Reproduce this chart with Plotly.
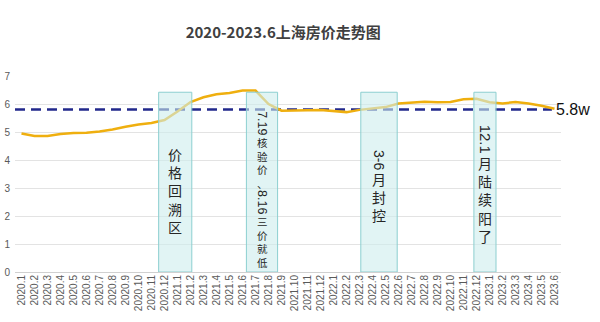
import plotly.graph_objects as go

months = ([f"2020.{m}" for m in range(1, 13)] + [f"2021.{m}" for m in range(1, 13)]
          + [f"2022.{m}" for m in range(1, 13)] + [f"2023.{m}" for m in range(1, 7)])
prices = [4.95, 4.86, 4.86, 4.93, 4.96, 4.97, 5.02, 5.09, 5.19, 5.27, 5.32, 5.43,
          5.73, 6.07, 6.24, 6.35, 6.39, 6.48, 6.48, 6.00, 5.76, 5.76, 5.78, 5.79,
          5.76, 5.71, 5.79, 5.83, 5.89, 6.02, 6.06, 6.08, 6.06, 6.07, 6.17, 6.19,
          6.06, 6.02, 6.07, 6.02, 5.94, 5.83]
benchmark = 5.8
benchmark_label = "5.8w"
notes = ["价格回溯区", "7.19核验价、8.16三价就低", "3-6月封控", "12.1月陆续阳了"]
title = "2020-2023.6上海房价走势图"

# layout for the highlight boxes (category index spans) and label placement
box_spans = [(10.55, 13.1), (17.3, 19.7), (26.1, 28.9), (34.8, 36.5)]
box_top = 6.42
note_top = [4.54, 5.75, 4.36, 5.25]
note_cjk_size = [14, 10.5, 14, 14]
note_latin_size = [14, 12.5, 14, 15]

fig = go.Figure()
fig.add_trace(go.Scatter(x=months, y=prices, mode="lines",
                         line=dict(color="#EFAF0F", width=2.5), hoverinfo="skip",
                         showlegend=False))

shapes = [dict(type="line", xref="x", yref="y", x0=-0.5, x1=40.8, y0=benchmark, y1=benchmark,
               line=dict(color="#22288C", width=2.5, dash="10px,6px"), layer="below")]
for (a, b) in box_spans:
    shapes.append(dict(type="rect", xref="x", yref="y", x0=a, x1=b, y0=0, y1=box_top,
                       fillcolor="rgba(205,236,236,0.6)", line=dict(color="#8CCFD0", width=1),
                       layer="above"))

ann = []
ann.append(dict(x=40.8, y=benchmark, xref="x", yref="y", text=benchmark_label, showarrow=False,
                xanchor="left", yanchor="middle", xshift=2,
                font=dict(size=16, color="#111111", family="Arial, Liberation Sans")))

wid = {".": 0.278, "-": 0.333}
for i, txt in enumerate(notes):
    a, b = box_spans[i]
    xc = (a + b) / 2
    cursor = 0.0
    j = 0
    while j < len(txt):
        latin = ord(txt[j]) < 128
        k = j
        while k < len(txt) and (ord(txt[k]) < 128) == latin:
            k += 1
        run = txt[j:k]
        if latin:
            fs = note_latin_size[i]
            L = sum(wid.get(c, 0.556) for c in run) * fs
            ann.append(dict(x=xc, y=note_top[i], xref="x", yref="y", text=run, showarrow=False,
                            textangle=90, xanchor="center", yanchor="middle",
                            yshift=-(cursor + L / 2), borderpad=0,
                            font=dict(size=fs, color="#262626", family="Arial, Liberation Sans")))
        else:
            fs = note_cjk_size[i]
            L = len(run) * fs * 1.3
            ann.append(dict(x=xc, y=note_top[i], xref="x", yref="y", text="<br>".join(run),
                            showarrow=False, xanchor="center", yanchor="middle",
                            yshift=-(cursor + L / 2), borderpad=0,
                            font=dict(size=fs, color="#262626", family="Noto Sans CJK SC")))
        cursor += L
        j = k

fig.update_layout(
    width=600, height=322,
    margin=dict(l=15, r=39, t=76, b=50),
    paper_bgcolor="white", plot_bgcolor="white",
    title=dict(text="<b>" + title + "</b>", x=0.472, xanchor="center", y=0.897, yanchor="middle",
               font=dict(size=15, color="#404040", family="Noto Sans CJK SC")),
    shapes=shapes, annotations=ann,
    xaxis=dict(type="category", categoryorder="array", categoryarray=months,
               range=[-0.5, 41.5], tickangle=-90, showgrid=False, showline=False,
               tickfont=dict(size=10, color="#595959", family="Arial, Liberation Sans"),
               automargin=False, fixedrange=True),
    yaxis=dict(range=[0, 7], tickvals=[0, 1, 2, 3, 4, 5, 6, 7], showgrid=True,
               gridcolor="#E3E3E3", zeroline=True, zerolinecolor="#D0D0D0", zerolinewidth=1,
               tickfont=dict(size=10, color="#595959", family="Arial, Liberation Sans"),
               automargin=False, fixedrange=True, ticklabelstandoff=4),
)
fig.write_html("out.html")
